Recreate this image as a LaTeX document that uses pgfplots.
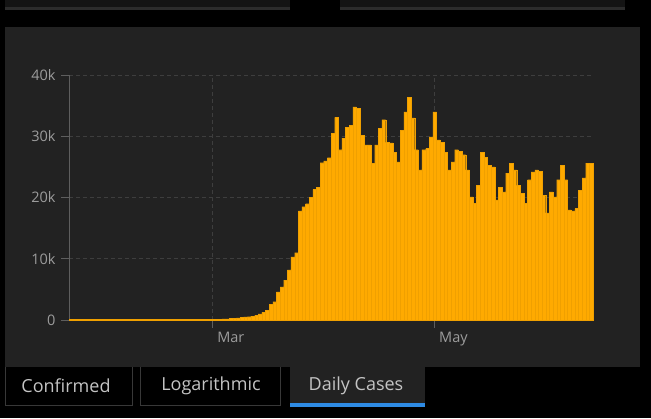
\documentclass[border=0pt]{standalone}
\usepackage{pgfplots}
\usepackage{pgfplotstable}
\pgfplotsset{compat=1.18}
\usepackage{fontspec}
\setmainfont{Open Sans}
\definecolor{bgc}{HTML}{000000}
\definecolor{panel}{HTML}{222222}
\definecolor{barc}{HTML}{FFAA00}
\definecolor{barl}{HTML}{F0A000}
\definecolor{gridc}{HTML}{3E3E3E}
\definecolor{axc}{HTML}{5E5E5E}
\definecolor{txt}{HTML}{9C9C9C}
\definecolor{tabtxt}{HTML}{C4C4C4}
\definecolor{tabb}{HTML}{383838}
\definecolor{topb}{HTML}{2C2C2C}
\definecolor{topd}{HTML}{141414}
\definecolor{bluec}{HTML}{2E8BE4}

\pgfplotstableread{
d v
0 120
1 120
2 120
3 120
4 120
5 120
6 120
7 120
8 120
9 120
10 120
11 120
12 120
13 120
14 120
15 120
16 120
17 120
18 120
19 120
20 120
21 120
22 120
23 120
24 120
25 120
26 120
27 120
28 120
29 120
30 120
31 120
32 120
33 120
34 120
35 120
36 120
37 120
38 120
39 120
40 150
41 150
42 180
43 200
44 250
45 300
46 350
47 450
48 500
49 550
50 650
51 750
52 1000
53 1300
54 1600
55 2600
56 3000
57 4600
58 5400
59 6500
60 8200
61 10300
62 11000
63 17800
64 18500
65 19000
66 20000
67 21300
68 21700
69 25700
70 26000
71 26500
72 30500
73 33100
74 27800
75 29700
76 31500
77 31800
78 34800
79 34600
80 30200
81 28600
82 28600
83 25600
84 28600
85 31300
86 32700
87 29000
88 28900
89 27400
90 25800
91 31000
92 34000
93 36400
94 33000
95 27800
96 24500
97 27800
98 28000
99 29900
100 34000
101 29400
102 29000
103 27400
104 24500
105 25800
106 27800
107 27500
108 27000
109 24500
110 20100
111 19100
112 22000
113 27400
114 26600
115 25300
116 25000
117 19600
118 21700
119 20900
120 24000
121 25600
122 24500
123 22000
124 20700
125 19100
126 22900
127 24200
128 24500
129 24300
130 20400
131 17500
132 20900
133 20100
134 22900
135 25300
136 22900
137 18000
138 17800
139 18200
140 21200
141 23200
142 25600
143 25600
}\daily

\begin{document}
\begin{tikzpicture}[x=1pt,y=1pt]
% background
\fill[bgc] (0,0) rectangle (651,-418);
% top panels (bottom edges of panels above)
\fill[topd] (5,0) rectangle (290,-7);
\fill[topd] (340,0) rectangle (625,-7);
\fill[topb] (5,-7) rectangle (290,-10);
\fill[topb] (340,-7) rectangle (625,-10);
% main panel
\fill[panel] (5,-27) rectangle (640,-367);
% tabs
\draw[tabb, line width=1pt] (5.5,-367) -- (5.5,-405) -- (132,-405) -- (132,-367);
\draw[tabb, line width=1pt] (140,-367) -- (140,-405) -- (280,-405) -- (280,-367);
\fill[panel] (290,-366) rectangle (425,-404);
\fill[bluec] (290,-403) rectangle (425,-406.5);
\node[tabtxt, font=\fontsize{18}{20}\selectfont] at (66,-386) {Confirmed};
\node[tabtxt, font=\fontsize{18}{20}\selectfont] at (211,-386) {Logarithmic};
\node[tabtxt, font=\fontsize{18}{20}\selectfont] at (356,-386) {Daily Cases};
\begin{axis}[
  at={(69pt,-320pt)}, anchor=south west,
  scale only axis, width=524pt, height=245pt,
  xmin=-0.5, xmax=143.5, ymin=0, ymax=40000,
  axis x line*=bottom, axis y line*=left,
  axis line style={axc, line width=0.8pt},
  ytick={0,10000,20000,30000,40000},
  yticklabels={0,10k,20k,30k,40k},
  scaled y ticks=false,
  xtick={39,100}, xticklabels={Mar,May},
  xmajorgrids, ymajorgrids,
  major grid style={gridc, dash pattern=on 4pt off 3pt, line width=0.7pt},
  tick align=outside,
  major tick length=8pt,
  tick style={axc, line width=0.8pt},
  tick label style={txt, font=\fontsize{14.5}{16}\selectfont},
  xticklabel style={anchor=north west, xshift=1pt, yshift=-1pt},
  yticklabel style={xshift=-2pt},
  /pgf/number format/assume math mode=true,
  ybar, bar width=1,
  clip=false,
]
\addplot[fill=barc, draw=barl, line width=0.15pt] table[x=d, y=v]{\daily};
\end{axis}
\end{tikzpicture}
\end{document}
